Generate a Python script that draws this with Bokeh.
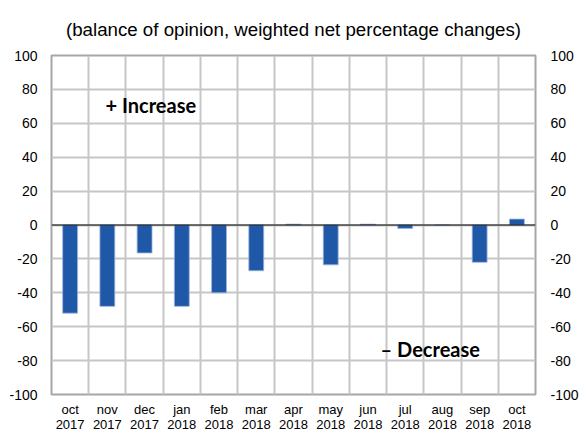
from bokeh.plotting import figure
from bokeh.models import FixedTicker, LinearAxis, Span, Label, Range1d
from bokeh.embed import file_html
from bokeh.resources import INLINE

months = ["oct", "nov", "dec", "jan", "feb", "mar", "apr", "may", "jun", "jul", "aug", "sep", "oct"]
years = ["2017", "2017", "2017", "2018", "2018", "2018", "2018", "2018", "2018", "2018", "2018", "2018", "2018"]
values = [-52, -48, -16.5, -48, -40, -27, 0.5, -23.5, 0.5, -2, 0, -22, 3.5]
y_ticks = [-100, -80, -60, -40, -20, 0, 20, 40, 60, 80, 100]
title_text = "(balance of opinion, weighted net percentage changes)"

n = len(values)
xs = list(range(n))

p = figure(frame_width=484, frame_height=339, output_backend="svg", toolbar_location=None,
           x_range=Range1d(-0.5, n - 0.5), y_range=Range1d(-100, 100),
           min_border_left=51, min_border_right=0, min_border_top=55, min_border_bottom=0)

p.title.text = title_text
p.title.align = "center"
p.title.vertical_align = "top"
p.title.text_font = "Liberation Sans"
p.title.text_font_size = "18.7px"
p.title.text_font_style = "normal"
p.title.text_color = "#000000"
p.title.standoff = 27

p.vbar(x=xs, top=values, bottom=0, width=0.4, fill_color="#1f58a6",
       line_color="#9db4dc", line_width=0.8)

# grids
p.xgrid.ticker = FixedTicker(ticks=[i - 0.5 for i in range(n + 1)])
p.ygrid.ticker = FixedTicker(ticks=y_ticks)
for g in (p.xgrid, p.ygrid):
    g.grid_line_color = "#c6c6c6"
    g.grid_line_width = 2

p.outline_line_color = "#a6a6a6"
p.outline_line_width = 2

zero = Span(location=0, dimension="width", line_color="#000000", line_width=1.2)
p.add_layout(zero)

# x axis
xa = p.xaxis[0]
xa.ticker = FixedTicker(ticks=xs)
xa.major_label_overrides = {i: f"{months[i]}\n{years[i]}" for i in xs}
xa.axis_line_color = None
xa.major_tick_line_color = None
xa.minor_tick_line_color = None
xa.major_tick_out = 0
xa.major_tick_in = 0
xa.major_label_text_font = "Liberation Sans"
xa.major_label_text_font_size = "13px"
xa.major_label_text_color = "#000000"
xa.major_label_text_line_height = 1.0
xa.major_label_standoff = 7

# y axes
ya = p.yaxis[0]
ra = LinearAxis()
p.add_layout(ra, "right")
for a, so in ((ya, 14), (ra, 15)):
    a.ticker = FixedTicker(ticks=y_ticks)
    a.major_label_overrides = {v: str(v) for v in y_ticks}
    a.axis_line_color = None
    a.major_tick_line_color = None
    a.minor_tick_line_color = None
    a.major_tick_out = 0
    a.major_tick_in = 0
    a.major_label_text_font = "Liberation Sans"
    a.major_label_text_font_size = "14px"
    a.major_label_text_color = "#000000"
    a.major_label_standoff = so

p.add_layout(Label(x=0.95, y=71, text="+ Increase", text_font="Lato", text_font_style="bold",
                   text_font_size="20px", text_baseline="middle", text_color="#000000"))
p.add_layout(Label(x=8.34, y=-73, text="\u2013 Decrease", text_font="Lato", text_font_style="bold",
                   text_font_size="20px", text_baseline="middle", text_color="#000000"))

open("out.html", "w").write(file_html(p, INLINE))
